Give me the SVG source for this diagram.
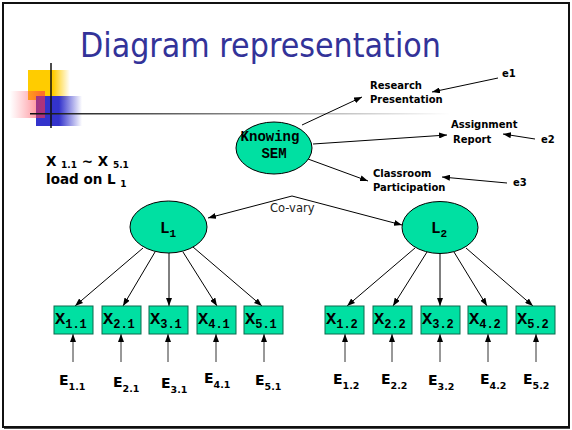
<svg xmlns="http://www.w3.org/2000/svg" width="572" height="430" viewBox="0 0 572 430">
  <style>
    .lbl { font-family: "DejaVu Sans", Verdana, sans-serif; font-weight: bold; font-size: 10px; fill: #000; }
    .mono { font-family: "Liberation Mono", "Courier New", monospace; font-weight: bold; fill: #000; }
    .lat { fill: #00e0a2; stroke: #000; stroke-width: 1; }
    .obs { fill: #00e0a2; stroke: #0b6a4c; stroke-width: 1; }
    .ename { font-family: "DejaVu Sans", Verdana, sans-serif; font-weight: bold; font-size: 14px; fill: #000; }
    .sub { font-size: 9.5px; }
    .conn path { fill: none; stroke: #000; stroke-width: 1; marker-end: url(#arr); }
    .conn .err { stroke: #333; }
  </style>
  <defs>
    <marker id="arr" markerUnits="userSpaceOnUse" markerWidth="8" markerHeight="6" refX="8" refY="3" orient="auto">
      <path d="M0,0 L8,3 L0,6 z" fill="#000"/>
    </marker>
    <linearGradient id="gYel" x1="0" x2="1" y1="0" y2="0">
      <stop offset="0.6" stop-color="#ffcc00"/>
      <stop offset="1" stop-color="#ffcc00" stop-opacity="0"/>
    </linearGradient>
    <linearGradient id="gBlue" x1="0" x2="1" y1="0" y2="0">
      <stop offset="0.5" stop-color="#3333cc"/>
      <stop offset="1" stop-color="#3333cc" stop-opacity="0"/>
    </linearGradient>
    <linearGradient id="gRed" x1="0" x2="1" y1="0" y2="0">
      <stop offset="0" stop-color="#ff5060" stop-opacity="0"/>
      <stop offset="0.9" stop-color="#ff3344" stop-opacity="0.6"/>
    </linearGradient>
    <linearGradient id="gRule" x1="0" x2="1" y1="0" y2="0">
      <stop offset="0" stop-color="#111"/>
      <stop offset="1" stop-color="#fff"/>
    </linearGradient>
  </defs>

  <!-- slide frame -->
  <rect x="0" y="0" width="572" height="430" fill="#fff"/>
  <rect x="3" y="3" width="566" height="424" fill="none" stroke="#111" stroke-width="2"/>
  <line x1="4" y1="428" x2="570" y2="428" stroke="#111" stroke-width="1.5"/>

  <!-- title -->
  <text x="80" y="57" font-family="DejaVu Sans, Verdana, sans-serif" font-size="33" fill="#333399" textLength="361" lengthAdjust="spacingAndGlyphs">Diagram representation</text>

  <!-- corner ornament -->
  <g id="ornament">
    <rect x="28" y="70" width="42" height="30" fill="url(#gYel)"/>
    <rect x="36" y="96" width="46" height="30" fill="url(#gBlue)"/>
    <rect x="10" y="91" width="35" height="27" fill="url(#gRed)"/>
    <line x1="51" y1="63" x2="51" y2="128" stroke="#111" stroke-width="1.5"/>
    <rect x="30" y="113" width="420" height="1.5" fill="url(#gRule)"/>
  </g>

  <!-- note -->
  <g id="note" font-family="DejaVu Sans, Verdana, sans-serif" font-weight="bold" fill="#000">
    <text x="46" y="166" font-size="13.5">X <tspan font-size="9" dy="2">1.1</tspan><tspan dy="-2"> ~ X </tspan><tspan font-size="9" dy="2">5.1</tspan></text>
    <text x="46" y="184" font-size="13.5">load on L <tspan font-size="9" dy="3">1</tspan></text>
  </g>

  <!-- connectors -->
  <g id="connectors" class="conn">
    <path d="M302,125 L362,97"/>
    <path d="M313,144 L447,135"/>
    <path d="M308,159 L368,181"/>
    <path d="M498,78 L432,92"/>
    <path d="M535,139 L503,134"/>
    <path d="M507,183 L442,177"/>
    <path d="M292,196 L208,218"/>
    <path d="M292,196 L402,225"/>
    <path d="M143,248 L75,306"/>
    <path d="M155,252 L123,306"/>
    <path d="M169,253 L169,306"/>
    <path d="M183,252 L217,306"/>
    <path d="M193,247 L262,306"/>
    <path d="M415,248 L347,306"/>
    <path d="M427,252 L393,306"/>
    <path d="M440,253 L440,306"/>
    <path d="M454,252 L487,306"/>
    <path d="M466,248 L533,306"/>
    <path class="err" d="M73,362 L73,334"/>
    <path class="err" d="M121,362 L121,334"/>
    <path class="err" d="M168,362 L168,334"/>
    <path class="err" d="M216,362 L216,334"/>
    <path class="err" d="M264,362 L264,334"/>
    <path class="err" d="M345,362 L345,334"/>
    <path class="err" d="M392,362 L392,334"/>
    <path class="err" d="M440,362 L440,334"/>
    <path class="err" d="M488,362 L488,334"/>
    <path class="err" d="M536,362 L536,334"/>
  </g>
  <text x="270" y="212" font-family="DejaVu Sans, Verdana, sans-serif" font-size="11.5" fill="#222">Co-vary</text>

  <!-- latent nodes -->
  <g id="knowing">
    <ellipse class="lat" cx="274" cy="148" rx="38" ry="26"/>
    <text class="mono" x="270" y="141" font-size="14" text-anchor="middle">Knowing</text>
    <text class="mono" x="274" y="158" font-size="14" text-anchor="middle">SEM</text>
  </g>
  <g id="L1">
    <ellipse class="lat" cx="168.5" cy="227" rx="38.5" ry="26"/>
    <text class="mono" x="160" y="233" font-size="16">L<tspan font-size="11" dy="4">1</tspan></text>
  </g>
  <g id="L2">
    <ellipse class="lat" cx="440" cy="227.5" rx="38" ry="26"/>
    <text class="mono" x="431" y="233" font-size="16">L<tspan font-size="11" dy="4">2</tspan></text>
  </g>

  <!-- indicator labels -->
  <g id="research"><text class="lbl" x="370" y="89">Research</text><text class="lbl" x="370" y="103">Presentation</text></g>
  <g id="assignment"><text class="lbl" x="451" y="128">Assignment</text><text class="lbl" x="453" y="143">Report</text></g>
  <g id="classroom"><text class="lbl" x="373" y="177">Classroom</text><text class="lbl" x="373" y="191">Participation</text></g>
  <g id="e1"><text class="lbl" x="502" y="77">e1</text></g>
  <g id="e2"><text class="lbl" x="541" y="143">e2</text></g>
  <g id="e3"><text class="lbl" x="513" y="186">e3</text></g>

  <!-- observed variables, factor 1 -->
  <g id="X11"><rect class="obs" x="54" y="306" width="39" height="28"/><text class="mono" x="55" y="324" font-size="17">X<tspan font-size="12" dy="4">1.1</tspan></text></g>
  <g id="X21"><rect class="obs" x="102" y="306" width="39" height="28"/><text class="mono" x="103" y="324" font-size="17">X<tspan font-size="12" dy="4">2.1</tspan></text></g>
  <g id="X31"><rect class="obs" x="149" y="306" width="39" height="28"/><text class="mono" x="150" y="324" font-size="17">X<tspan font-size="12" dy="4">3.1</tspan></text></g>
  <g id="X41"><rect class="obs" x="197" y="306" width="39" height="28"/><text class="mono" x="198" y="324" font-size="17">X<tspan font-size="12" dy="4">4.1</tspan></text></g>
  <g id="X51"><rect class="obs" x="244" y="306" width="39" height="28"/><text class="mono" x="245" y="324" font-size="17">X<tspan font-size="12" dy="4">5.1</tspan></text></g>

  <!-- observed variables, factor 2 -->
  <g id="X12"><rect class="obs" x="325" y="306" width="39" height="28"/><text class="mono" x="326" y="324" font-size="17">X<tspan font-size="12" dy="4">1.2</tspan></text></g>
  <g id="X22"><rect class="obs" x="373" y="306" width="39" height="28"/><text class="mono" x="374" y="324" font-size="17">X<tspan font-size="12" dy="4">2.2</tspan></text></g>
  <g id="X32"><rect class="obs" x="421" y="306" width="39" height="28"/><text class="mono" x="422" y="324" font-size="17">X<tspan font-size="12" dy="4">3.2</tspan></text></g>
  <g id="X42"><rect class="obs" x="468" y="306" width="39" height="28"/><text class="mono" x="469" y="324" font-size="17">X<tspan font-size="12" dy="4">4.2</tspan></text></g>
  <g id="X52"><rect class="obs" x="516" y="306" width="39" height="28"/><text class="mono" x="517" y="324" font-size="17">X<tspan font-size="12" dy="4">5.2</tspan></text></g>

  <!-- error terms -->
  <g id="E11"><text class="ename" x="59" y="385">E<tspan class="sub" dy="5">1.1</tspan></text></g>
  <g id="E21"><text class="ename" x="113" y="387">E<tspan class="sub" dy="5">2.1</tspan></text></g>
  <g id="E31"><text class="ename" x="161" y="388">E<tspan class="sub" dy="5">3.1</tspan></text></g>
  <g id="E41"><text class="ename" x="204" y="383">E<tspan class="sub" dy="5">4.1</tspan></text></g>
  <g id="E51"><text class="ename" x="255" y="385">E<tspan class="sub" dy="5">5.1</tspan></text></g>
  <g id="E12"><text class="ename" x="333" y="384">E<tspan class="sub" dy="5">1.2</tspan></text></g>
  <g id="E22"><text class="ename" x="381" y="384">E<tspan class="sub" dy="5">2.2</tspan></text></g>
  <g id="E32"><text class="ename" x="428" y="385">E<tspan class="sub" dy="5">3.2</tspan></text></g>
  <g id="E42"><text class="ename" x="480" y="384">E<tspan class="sub" dy="5">4.2</tspan></text></g>
  <g id="E52"><text class="ename" x="523" y="384">E<tspan class="sub" dy="5">5.2</tspan></text></g>
</svg>
